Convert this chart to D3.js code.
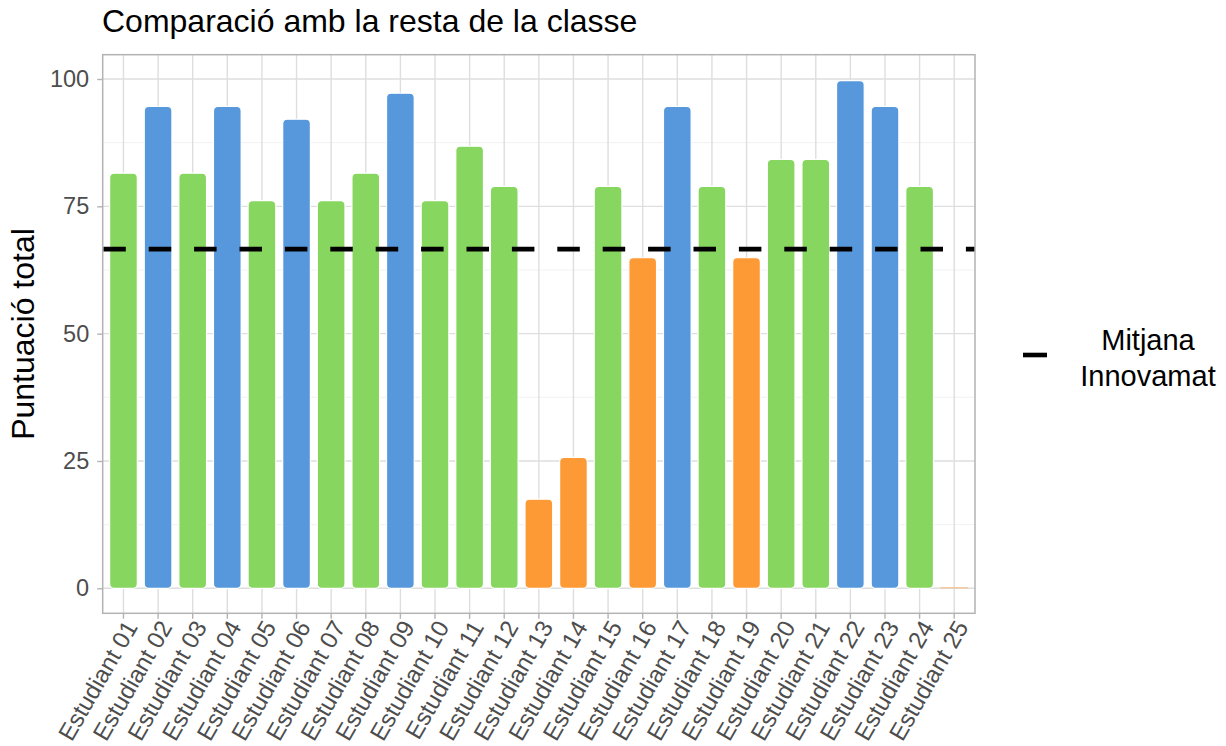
<!DOCTYPE html>
<html>
<head>
<meta charset="utf-8">
<script src="https://cdn.jsdelivr.net/npm/d3@7"></script>
<style>
  html, body { margin: 0; padding: 0; background: #fff; }
  text { font-family: "Liberation Sans", Arial, Helvetica, sans-serif; }
</style>
</head>
<body>
<svg id="chart" width="1226" height="746"></svg>
<script>
const students = ["Estudiant 01","Estudiant 02","Estudiant 03","Estudiant 04","Estudiant 05",
  "Estudiant 06","Estudiant 07","Estudiant 08","Estudiant 09","Estudiant 10","Estudiant 11",
  "Estudiant 12","Estudiant 13","Estudiant 14","Estudiant 15","Estudiant 16","Estudiant 17",
  "Estudiant 18","Estudiant 19","Estudiant 20","Estudiant 21","Estudiant 22","Estudiant 23",
  "Estudiant 24","Estudiant 25"];
const scores = [81.5, 94.6, 81.5, 94.6, 76.1, 92.1, 76.1, 81.5, 97.2, 76.1, 86.8, 78.9,
  17.5, 25.7, 78.9, 64.9, 94.6, 78.9, 64.9, 84.2, 84.2, 99.7, 94.6, 78.9, 0];
const levels = ["mid","high","mid","high","mid","high","mid","mid","high","mid","mid","mid",
  "low","low","mid","low","high","mid","low","mid","mid","high","high","mid","low"];
const levelColors = { high: "#5798DC", mid: "#87D65F", low: "#FE9A36" };
const meanValue = 66.6;
const yTicks = [0, 25, 50, 75, 100];
const yMinorTicks = [12.5, 37.5, 62.5, 87.5];
const titleText = "Comparació amb la resta de la classe";
const yLabel = "Puntuació total";
const legendLines = ["Mitjana", "Innovamat"];

const svg = d3.select("#chart");
const panel = { left: 102.7, top: 54.7, right: 975, bottom: 613.3 };

const x = d3.scaleBand().domain(students)
  .range([panel.left, panel.right]).paddingInner(0.2).paddingOuter(0.2);
const y = d3.scaleLinear().domain([0, 100]).range([588.3, 79]);

// minor grid
svg.append("g").selectAll("line").data(yMinorTicks).join("line")
  .attr("x1", panel.left).attr("x2", panel.right)
  .attr("y1", d => y(d)).attr("y2", d => y(d))
  .attr("stroke", "#ededed").attr("stroke-width", 0.8);
// major grid horizontal
svg.append("g").selectAll("line").data(yTicks).join("line")
  .attr("x1", panel.left).attr("x2", panel.right)
  .attr("y1", d => y(d)).attr("y2", d => y(d))
  .attr("stroke", "#dedede").attr("stroke-width", 1.4);
// major grid vertical
svg.append("g").selectAll("line").data(students).join("line")
  .attr("x1", d => x(d) + x.bandwidth() / 2).attr("x2", d => x(d) + x.bandwidth() / 2)
  .attr("y1", panel.top).attr("y2", panel.bottom)
  .attr("stroke", "#dedede").attr("stroke-width", 1.4);

// bars
const data = students.map((s, i) => ({ s, v: scores[i], lvl: levels[i] }));
svg.append("g").selectAll("rect").data(data).join("rect")
  .attr("x", d => x(d.s))
  .attr("width", x.bandwidth())
  .attr("y", d => Math.min(y(d.v), y(0) - 1))
  .attr("height", d => Math.max(y(0) - y(d.v), 1))
  .attr("rx", d => Math.min(4.5, (y(0) - y(d.v)) / 2))
  .attr("fill", d => levelColors[d.lvl])
  .attr("fill-opacity", d => d.v > 0 ? 1 : 0.6)
  .attr("stroke", "#fff")
  .attr("stroke-width", d => d.v > 0 ? 1.2 : 0);

// mean dashed line
svg.append("line")
  .attr("x1", panel.left + 0.6).attr("x2", panel.right)
  .attr("y1", y(meanValue)).attr("y2", y(meanValue))
  .attr("stroke", "#000").attr("stroke-width", 4.6)
  .attr("stroke-dasharray", "22.5,22.9");

// panel border
svg.append("rect").attr("x", panel.left).attr("y", panel.top)
  .attr("width", panel.right - panel.left).attr("height", panel.bottom - panel.top)
  .attr("fill", "none").attr("stroke", "#b3b3b3").attr("stroke-width", 1.5);

// y axis
const yAxis = svg.append("g")
  .attr("transform", `translate(${panel.left},0)`)
  .call(d3.axisLeft(y).tickValues(yTicks).tickSize(5.5).tickPadding(8));
yAxis.select(".domain").remove();
yAxis.selectAll(".tick line").attr("stroke", "#b3b3b3").attr("stroke-width", 1.4);
yAxis.selectAll(".tick text").attr("fill", "#4d4d4d")
  .style("font-size", "23.5px").style("font-family", "Liberation Sans, Arial, sans-serif");

// x axis
const xAxis = svg.append("g")
  .attr("transform", `translate(0,${panel.bottom})`)
  .call(d3.axisBottom(x).tickSize(5.5).tickPadding(4));
xAxis.select(".domain").remove();
xAxis.selectAll(".tick line").attr("stroke", "#b3b3b3").attr("stroke-width", 1.4);
xAxis.selectAll(".tick text")
  .attr("fill", "#4d4d4d")
  .style("font-size", "24px").style("font-family", "Liberation Sans, Arial, sans-serif")
  .attr("text-anchor", "end")
  .attr("dy", "0.72em")
  .attr("transform", "translate(0,5) rotate(-60)")
  .attr("y", 0).attr("x", 0);

// title
svg.append("text").attr("x", 102).attr("y", 32)
  .style("font-size", "32px").attr("fill", "#000").text(titleText);

// y label
svg.append("text")
  .attr("transform", `translate(34,334) rotate(-90)`)
  .attr("text-anchor", "middle")
  .style("font-size", "32px").attr("fill", "#000").text(yLabel);

// legend
svg.append("line").attr("x1", 1023).attr("x2", 1047).attr("y1", 355).attr("y2", 355)
  .attr("stroke", "#000").attr("stroke-width", 4.6);
svg.append("g").selectAll("text").data(legendLines).join("text")
  .attr("x", 1148).attr("y", (d, i) => 350 + i * 36)
  .attr("text-anchor", "middle")
  .style("font-size", "29px").attr("fill", "#000").text(d => d);
</script>
</body>
</html>
